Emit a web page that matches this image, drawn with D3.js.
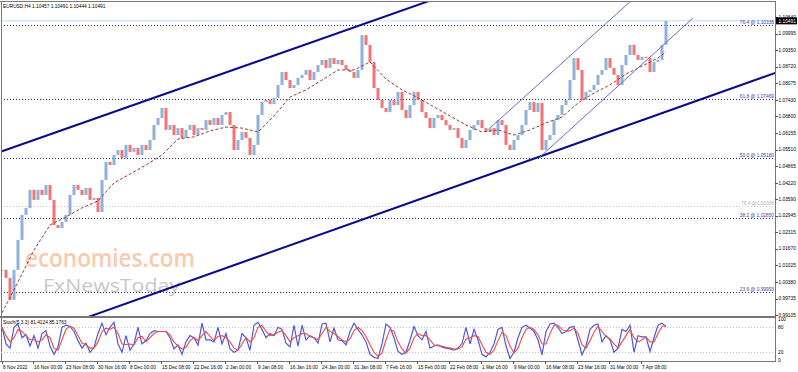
<!DOCTYPE html>
<meta charset="utf-8">
<script src="https://d3js.org/d3.v7.min.js"></script>
<style>
  body { margin: 0; background: #fff; }
  text { font-family: "Liberation Sans", Arial, sans-serif; }
</style>
<div id="chart"></div>
<script>
// EURUSD H4 closes, one value every 4 bars (bar 0 = 8 Nov 2022)
var closes = [
  1.0085, 1.0054, 0.9969, 1.0085, 1.0201, 1.0298, 1.0325, 1.0395, 1.0356, 1.0395,
  1.0375, 1.0414, 1.0356, 1.0259, 1.0247, 1.0271, 1.0298, 1.0375, 1.0414, 1.0395,
  1.0375, 1.0402, 1.0356, 1.0364, 1.0309, 1.0433, 1.0503, 1.0491, 1.0530, 1.0549,
  1.0518, 1.0569, 1.0542, 1.0557, 1.0530, 1.0569, 1.0549, 1.0588, 1.0646, 1.0673,
  1.0712, 1.0627, 1.0646, 1.0607, 1.0634, 1.0596, 1.0627, 1.0646, 1.0607, 1.0634,
  1.0627, 1.0665, 1.0646, 1.0673, 1.0646, 1.0685, 1.0696, 1.0646, 1.0549, 1.0588,
  1.0619, 1.0596, 1.0530, 1.0569, 1.0685, 1.0735, 1.0743, 1.0727, 1.0751, 1.0801,
  1.0851, 1.0820, 1.0789, 1.0801, 1.0828, 1.0840, 1.0859, 1.0820, 1.0851, 1.0878,
  1.0898, 1.0867, 1.0905, 1.0882, 1.0898, 1.0878, 1.0859, 1.0851, 1.0828, 1.0859,
  1.0994, 1.0956, 1.0890, 1.0789, 1.0743, 1.0712, 1.0696, 1.0743, 1.0723, 1.0774,
  1.0704, 1.0673, 1.0723, 1.0774, 1.0743, 1.0696, 1.0673, 1.0634, 1.0673, 1.0685,
  1.0665, 1.0646, 1.0627, 1.0634, 1.0596, 1.0557, 1.0588, 1.0627, 1.0646, 1.0665,
  1.0634, 1.0619, 1.0634, 1.0607, 1.0665, 1.0646, 1.0569, 1.0549, 1.0588, 1.0607,
  1.0646, 1.0704, 1.0735, 1.0696, 1.0731, 1.0549, 1.0588, 1.0607, 1.0665, 1.0685,
  1.0723, 1.0743, 1.0820, 1.0905, 1.0859, 1.0743, 1.0774, 1.0781, 1.0801, 1.0840,
  1.0859, 1.0905, 1.0867, 1.0840, 1.0801, 1.0878, 1.0917, 1.0956, 1.0917, 1.0898,
  1.0909, 1.0905, 1.0851, 1.0890, 1.0898, 1.0956, 1.1049
];
var barStep = 4;

// moving average, one value every 16 bars (last one at bar 664)
var maValues = [
  0.9919, 1.0038, 1.0162, 1.0259, 1.0290, 1.0325, 1.0352, 1.0422, 1.0456, 1.0491,
  1.0530, 1.0592, 1.0600, 1.0623, 1.0638, 1.0634, 1.0619, 1.0681, 1.0754, 1.0782,
  1.0820, 1.0859, 1.0859, 1.0890, 1.0824, 1.0782, 1.0751, 1.0716, 1.0681, 1.0646,
  1.0619, 1.0627, 1.0607, 1.0627, 1.0654, 1.0677, 1.0731, 1.0770, 1.0801, 1.0843,
  1.0874, 1.0905, 1.0929
];
var maBars = d3.range(0, 657, 16).concat([664]);

// stochastic (5,3,3), one value every 4 bars
var stochK = [
  81, 40, 30, 80, 88, 55, 62, 35, 60, 30,
  65, 72, 35, 15, 33, 80, 85, 82, 70, 48,
  30, 42, 20, 32, 65, 90, 62, 80, 92, 40,
  20, 60, 25, 40, 80, 40, 48, 65, 72, 70,
  70, 70, 55, 28, 38, 15, 45, 60, 55, 37,
  90, 50, 50, 45, 80, 40, 65, 28, 20, 25,
  65, 55, 25, 85, 92, 75, 55, 65, 60, 80,
  75, 42, 33, 85, 35, 85, 50, 60, 55, 42,
  88, 90, 45, 78, 50, 48, 38, 70, 90, 75,
  62, 45, 15, 8, 5, 40, 88, 80, 55, 22,
  15, 20, 49, 82, 60, 50, 70, 30, 35, 38,
  32, 30, 28, 25, 30, 41, 80, 40, 75, 50,
  15, 9, 20, 40, 75, 80, 35, 5, 20, 55,
  80, 85, 78, 70, 50, 14, 70, 88, 90, 80,
  65, 70, 80, 82, 49, 14, 35, 75, 85, 88,
  45, 60, 50, 20, 30, 75, 70, 85, 20, 60,
  57, 57, 22, 55, 85, 90, 81
];
var stochD = [
  80, 60, 45, 55, 75, 70, 60, 50, 50, 45,
  50, 62, 55, 30, 25, 50, 75, 83, 78, 60,
  42, 38, 30, 30, 45, 70, 78, 75, 80, 65,
  40, 38, 40, 38, 55, 58, 45, 55, 65, 70,
  70, 70, 62, 45, 35, 28, 32, 48, 55, 48,
  60, 70, 58, 48, 58, 60, 55, 45, 30, 25,
  40, 55, 45, 55, 80, 85, 70, 60, 62, 68,
  72, 60, 45, 55, 60, 65, 65, 58, 55, 50,
  65, 80, 70, 65, 58, 50, 45, 52, 72, 80,
  72, 58, 38, 20, 10, 18, 50, 75, 70, 45,
  28, 18, 30, 55, 65, 60, 60, 50, 38, 35,
  35, 32, 30, 28, 28, 33, 52, 55, 60, 58,
  38, 20, 15, 25, 48, 68, 60, 35, 18, 30,
  55, 75, 80, 75, 62, 40, 40, 65, 85, 85,
  75, 70, 72, 78, 65, 38, 30, 48, 68, 82,
  70, 58, 52, 40, 30, 45, 60, 75, 55, 45,
  50, 57, 45, 45, 65, 82, 85
];

var priceTicks = [1.10640, 1.09995, 1.09350, 1.08720, 1.08075, 1.07430, 1.06800,
  1.06155, 1.05510, 1.04865, 1.04220, 1.03590, 1.02945, 1.02315, 1.01670,
  1.01025, 1.00380, 0.99735, 0.99105];
var stochTicks = [100, 80, 20, 0];

var dateLabels = ["8 Nov 2022", "16 Nov 00:00", "23 Nov 08:00", "30 Nov 16:00",
  "8 Dec 00:00", "15 Dec 08:00", "22 Dec 16:00", "2 Jan 00:00", "9 Jan 08:00",
  "16 Jan 16:00", "24 Jan 00:00", "31 Jan 08:00", "7 Feb 16:00", "15 Feb 00:00",
  "22 Feb 08:00", "1 Mar 16:00", "9 Mar 00:00", "16 Mar 08:00", "23 Mar 16:00",
  "31 Mar 00:00", "7 Apr 08:00"];
var dateBars = [0, 31, 63, 95, 127, 159, 191, 223, 255, 287, 319, 351, 383,
  415, 447, 479, 511, 543, 575, 607, 639];

// fibonacci levels
var fibNames = ["76.4 @ 1.10336", "61.8 @ 1.07469", "50.0 @ 1.05180",
  "38.2 @ 1.02850", "23.6 @ 0.99993"];
var fibPrices = [1.10336, 1.07469, 1.05180, 1.02850, 0.99993];
var oldFibName = "76.4 @1.03306", oldFibPrice = 1.03306;

// trend lines: [bar1, price1, bar2, price2]
var thickLines = [
  [0, 1.05443, 400, 1.10892],
  [538, 1.05241, 773, 1.08473]
];
var thinLines = [
  [488, 1.06344, 630, 1.11298],
  [538, 1.05222, 691, 1.10601]
];

var lastPrice = 1.10491;
var header = "EURUSD,H4  1.10457 1.10491 1.10444 1.10491";
var stochHeader = "Stoch(5,3,3) 81.4124 85.1763";

// ---- layout
var W = 798, H = 372;
var left = 1, right = 775, mainTop = 2, mainBottom = 316, subTop = 318, subBottom = 361;

var svg = d3.select("#chart").append("svg")
  .attr("width", W).attr("height", H)
  .style("display", "block");
svg.append("rect").attr("width", W).attr("height", H).attr("fill", "#fff");

var x = d3.scaleLinear().domain([0, 773]).range([2, 775]);
var y = d3.scaleLinear().domain([0.99105, 1.10640]).range([315, 17]);
var ys = d3.scaleLinear().domain([0, 100]).range([360.6, 319]);

svg.append("clipPath").attr("id", "mainClip").append("rect")
  .attr("x", left).attr("y", mainTop).attr("width", right - left).attr("height", mainBottom - mainTop);
svg.append("clipPath").attr("id", "subClip").append("rect")
  .attr("x", left).attr("y", subTop).attr("width", right - left).attr("height", subBottom - subTop);

var main = svg.append("g").attr("clip-path", "url(#mainClip)");

// watermark
main.append("text").attr("x", 25).attr("y", 267)
  .attr("textLength", 170).attr("lengthAdjust", "spacingAndGlyphs")
  .style("font-family", "'Open Sans', sans-serif").style("font-weight", "600")
  .style("font-size", "25px").attr("fill", "#f6b48c").attr("opacity", 0.7)
  .text("economies.com");
main.append("text").attr("x", 43).attr("y", 292)
  .attr("textLength", 137).attr("lengthAdjust", "spacingAndGlyphs")
  .style("font-family", "'Open Sans', sans-serif")
  .style("font-size", "18px").attr("fill", "#c8c8c8")
  .text("FxNewsToday");

// current price line
main.append("line").attr("x1", left).attr("x2", right)
  .attr("y1", y(lastPrice)).attr("y2", y(lastPrice))
  .attr("stroke", "#bfe0ee").attr("stroke-width", 1);

// fib levels
main.append("line").attr("x1", left).attr("x2", right)
  .attr("y1", Math.round(y(oldFibPrice)) + 0.5).attr("y2", Math.round(y(oldFibPrice)) + 0.5)
  .attr("stroke", "#c8c8c8").attr("stroke-dasharray", "1,2");
fibPrices.forEach(function(p) {
  main.append("line").attr("x1", left).attr("x2", right)
    .attr("y1", Math.round(y(p)) + 0.5).attr("y2", Math.round(y(p)) + 0.5)
    .attr("stroke", "#2a2aa0").attr("stroke-dasharray", "1,2");
});
fibNames.forEach(function(n, i) {
  main.append("text").attr("x", 774).attr("y", y(fibPrices[i]) - 1)
    .attr("text-anchor", "end").style("font-size", "4.8px").attr("fill", "#3a3ab0")
    .text(n);
});
main.append("text").attr("x", 774).attr("y", y(oldFibPrice) - 1)
  .attr("text-anchor", "end").style("font-size", "4.8px").attr("fill", "#b0b0b0")
  .text(oldFibName);

// bars
main.selectAll("rect.bar").data(closes).enter().append("rect")
  .attr("class", "bar")
  .attr("x", function(d, i) { return x(i * barStep) - 1.5; })
  .attr("width", 3)
  .attr("y", function(d, i) {
    var o = i ? closes[i - 1] : d;
    return Math.min(y(o), y(d));
  })
  .attr("height", function(d, i) {
    var o = i ? closes[i - 1] : d;
    return Math.max(1, Math.abs(y(o) - y(d)));
  })
  .attr("fill", function(d, i) {
    var o = i ? closes[i - 1] : d;
    return d >= o ? "#8db3da" : "#f77272";
  });

// moving average
main.append("path").datum(maValues)
  .attr("fill", "none").attr("stroke", "#9a3b3b").attr("stroke-width", 1)
  .attr("stroke-dasharray", "3,2")
  .attr("d", d3.line()
    .x(function(d, i) { return x(maBars[i]); })
    .y(function(d) { return y(d); }));

// trend lines
function extend(l, x0, x1) {
  var s = (l[3] - l[1]) / (l[2] - l[0]);
  return [[x0, l[1] + s * (x0 - l[0])], [x1, l[1] + s * (x1 - l[0])]];
}
thickLines.forEach(function(l) {
  var pts = extend(l, -5, 800);
  main.append("line")
    .attr("x1", x(pts[0][0])).attr("y1", y(pts[0][1]))
    .attr("x2", x(pts[1][0])).attr("y2", y(pts[1][1]))
    .attr("stroke", "#0c0c8a").attr("stroke-width", 2);
});
thinLines.forEach(function(l) {
  main.append("line")
    .attr("x1", x(l[0])).attr("y1", y(l[1]))
    .attr("x2", x(l[2])).attr("y2", y(l[3]))
    .attr("stroke", "#6c6cc8").attr("stroke-width", 1);
});

// header
svg.append("text").attr("x", 3).attr("y", 8).style("font-size", "4.8px")
  .attr("fill", "#000").text(header);

// frame
svg.append("line").attr("x1", 0).attr("x2", right).attr("y1", 1.5).attr("y2", 1.5)
  .attr("stroke", "#777");
svg.append("line").attr("x1", 1.5).attr("x2", 1.5).attr("y1", 1).attr("y2", subBottom)
  .attr("stroke", "#777");
svg.append("line").attr("x1", right + 0.5).attr("x2", right + 0.5).attr("y1", 1).attr("y2", subBottom)
  .attr("stroke", "#777");
svg.append("rect").attr("x", 0).attr("y", mainBottom).attr("width", right + 1).attr("height", 2)
  .attr("fill", "#777");
svg.append("line").attr("x1", 0).attr("x2", right + 1).attr("y1", subBottom + 0.5).attr("y2", subBottom + 0.5)
  .attr("stroke", "#777");

// price axis
var pAxis = svg.append("g");
priceTicks.forEach(function(p) {
  pAxis.append("line").attr("x1", right).attr("x2", right + 3)
    .attr("y1", Math.round(y(p)) + 0.5).attr("y2", Math.round(y(p)) + 0.5).attr("stroke", "#555");
  pAxis.append("text").attr("x", right + 3.5).attr("y", y(p) + 1.7)
    .style("font-size", "4.8px").attr("fill", "#000").text(d3.format(".5f")(p));
});
pAxis.append("rect").attr("x", right + 1).attr("y", y(lastPrice) - 3.5)
  .attr("width", 21).attr("height", 7).attr("fill", "#000");
pAxis.append("text").attr("x", right + 3.5).attr("y", y(lastPrice) + 1.7)
  .style("font-size", "4.8px").attr("fill", "#fff").text(d3.format(".5f")(lastPrice));

// stochastic panel
var sub = svg.append("g").attr("clip-path", "url(#subClip)");
[80, 20].forEach(function(v) {
  sub.append("line").attr("x1", left).attr("x2", right)
    .attr("y1", Math.round(ys(v)) + 0.5).attr("y2", Math.round(ys(v)) + 0.5)
    .attr("stroke", "#c0c0c0").attr("stroke-dasharray", "1,2");
});
var sLine = d3.line()
  .x(function(d, i) { return x(i * barStep); })
  .y(function(d) { return ys(d); });
sub.append("path").datum(stochK).attr("fill", "none")
  .attr("stroke", "#4d5ad8").attr("stroke-width", 1.2).attr("d", sLine);
sub.append("path").datum(stochD).attr("fill", "none")
  .attr("stroke", "#f44848").attr("stroke-width", 1.1).attr("d", sLine);
svg.append("text").attr("x", 3).attr("y", 324).style("font-size", "4.8px")
  .attr("fill", "#000").text(stochHeader);
stochTicks.forEach(function(v) {
  svg.append("text").attr("x", right + 3).attr("y", ys(v) + 1.7)
    .style("font-size", "4.8px").attr("fill", "#000").text(v);
});

// time axis
dateLabels.forEach(function(lbl, i) {
  svg.append("line").attr("x1", x(dateBars[i]) + 0.5).attr("x2", x(dateBars[i]) + 0.5)
    .attr("y1", subBottom).attr("y2", subBottom + 3).attr("stroke", "#555");
  svg.append("text").attr("x", x(dateBars[i]) + 1).attr("y", 368.5)
    .style("font-size", "4.8px").attr("fill", "#000").text(lbl);
});
</script>
